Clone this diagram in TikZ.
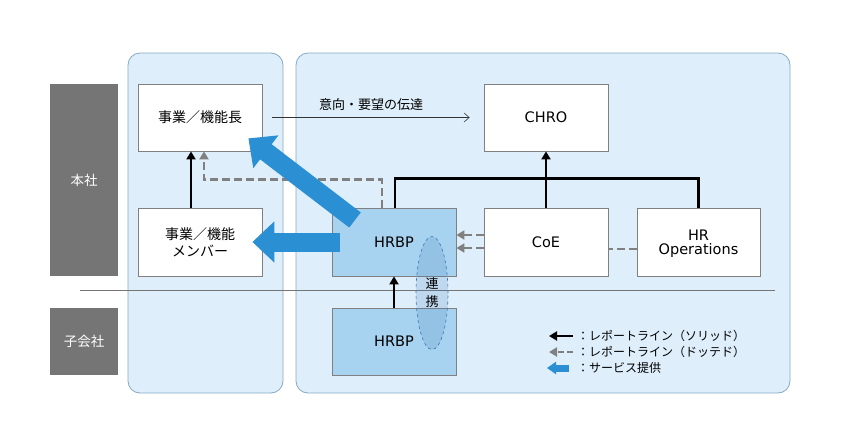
\documentclass[tikz,border=0pt]{standalone}
\usepackage{fontspec}
\setmainfont{DejaVu Sans}
\newfontfamily\jp{Noto Sans CJK JP}
\usetikzlibrary{arrows.meta,shapes.geometric}
\definecolor{panelfill}{RGB}{222,238,250}
\definecolor{panelline}{RGB}{134,170,196}
\definecolor{bargrey}{RGB}{117,117,117}
\definecolor{boxline}{RGB}{128,128,128}
\definecolor{hrbpfill}{RGB}{168,211,240}
\definecolor{serviceblue}{RGB}{43,143,211}
\definecolor{dotgrey}{RGB}{128,128,128}
\definecolor{renkeiline}{RGB}{60,120,184}
\begin{document}
\begin{tikzpicture}
    [x=1pt,y=-1pt,font=\fontsize{14.5}{17}\selectfont,
    panel/.style={shape=rectangle,draw=panelline,fill=panelfill,rounded corners=12pt,line width=0.8pt},
    bar/.style={shape=rectangle,fill=bargrey,text=white,minimum width=68pt,font=\jp\fontsize{13.5}{16}\selectfont},
    box/.style={shape=rectangle,draw=boxline,fill=white,minimum width=124pt,minimum height=67pt,align=center,line width=0.8pt},
    hrbox/.style={box,fill=hrbpfill},
    report/.style={-{Triangle[length=8pt,width=9pt]},line width=2.6pt},
    dotline/.style={dash pattern=on 8pt off 4pt,draw=dotgrey,line width=2.6pt},
    dotreport/.style={dotline,-{Triangle[length=8pt,width=9pt]}},
    service/.style={-{Triangle[length=22pt,width=40pt]},line width=19pt,draw=serviceblue},
    message/.style={-{Straight Barb[length=5pt,width=9pt]},line width=0.6pt,draw=black!80},
    legendtext/.style={anchor=west,inner sep=0pt,font=\jp\fontsize{12}{14}\selectfont}]

    \useasboundingbox (0,0) rectangle (860,445);

    % panels and bars
    \node (leftpanel) [panel,minimum width=155pt,minimum height=340pt] at (205.5,223) {};
    \node (rightpanel) [panel,minimum width=494pt,minimum height=340pt] at (543,223) {};
    \node (honsha) [bar,minimum height=192pt] at (84,180) {本社};
    \node (kogaisha) [bar,minimum height=67pt] at (84,341.5) {子会社};

    \coordinate (sepL) at (80,290);
    \coordinate (sepR) at (775,290);
    \draw [draw=bargrey,line width=0.7pt] (sepL) -- (sepR);

    % boxes
    \node (head) [box,font=\jp\fontsize{14}{17}\selectfont] at (200,117.5) {事業／機能長};
    \node (member) [box,minimum height=68pt,font=\jp\fontsize{14}{17}\selectfont] at (200,242) {事業／機能\\メンバー};
    \node (chro) [box] at (546,117.5) {CHRO};
    \node (hrbp) [hrbox,minimum height=68pt] at (394,242) {};
    \node (coe) [box,minimum height=68pt] at (546,242) {CoE};
    \node (hrops) [box,minimum width=123pt,minimum height=68pt] at (698.5,242) {};
    \node (subhrbp) [hrbox] at (394,341.5) {};

    % lines
    \draw [message] ([xshift=10pt]head.east) -- ([xshift=-14pt]chro.west)
        node[midway,above=3pt,font=\jp\fontsize{13}{16}\selectfont] {意向・要望の伝達};
    \draw [report] ([xshift=-9pt]member.north) -- ([xshift=-9pt]head.south);
    \draw [dotreport] ([xshift=-12pt]hrbp.north) -- ++(0,-28) -| ([xshift=4pt]head.south);
    \draw [line width=2.6pt] ([xshift=1pt]hrbp.north) -- ++(0,-29) -| (hrops.north);
    \draw [report] (coe.north) -- (chro.south);
    \draw [dotreport] ([yshift=7pt]coe.west) -- ([yshift=7pt]hrbp.east);
    \draw [dotreport] ([yshift=-6pt]coe.west) -- ([yshift=-6pt]hrbp.east);
    \draw [dotline] ([yshift=-7pt]hrops.west) -- ([yshift=-7pt]coe.east);
    \draw [report] (subhrbp.north) -- (hrbp.south);

    % service arrows
    \draw [service] ([shift={(-39,-22)}]hrbp.center) -- ([shift={(-14,-13)}]head.south east);
    \draw [service] ([xshift=8pt]hrbp.west) -- ([xshift=-10pt]member.east);

    \node (hrbptext) at (hrbp) {HRBP};
    \node (subhrbptext) at (subhrbp) {HRBP};
    \node (hropstext) [align=center] at ([yshift=-2pt]hrops.center) {HR\\[-3pt]Operations};

    % renkei
    \node (renkei) [ellipse,draw=renkeiline,dashed,line width=0.6pt,fill=renkeiline,fill opacity=0.18,
        text opacity=1,minimum width=32pt,minimum height=113pt,align=center,inner sep=0pt,
        font=\jp\fontsize{13}{18}\selectfont] at (432,293) {連\\携};

    % legend
    \coordinate (solidtail) at (573,336);
    \coordinate (solidtip) at (549,336);
    \coordinate (dottail) at (573,352);
    \coordinate (dottip) at (549,352);
    \coordinate (servtail) at (569,368);
    \coordinate (servtip) at (547,368);
    \draw [report,line width=2.4pt] (solidtail) -- (solidtip);
    \draw [dotreport,line width=2.4pt,dash pattern=on 6pt off 3pt] (dottail) -- (dottip);
    \draw [-{Triangle[length=9pt,width=12pt]},line width=7pt,draw=serviceblue] (servtail) -- (servtip);
    \node (solidtext) [legendtext] at (577,336) {：レポートライン（ソリッド）};
    \node (dottext) [legendtext] at (577,352) {：レポートライン（ドッテド）};
    \node (servtext) [legendtext] at (577,368) {：サービス提供};

\end{tikzpicture}
\end{document}
